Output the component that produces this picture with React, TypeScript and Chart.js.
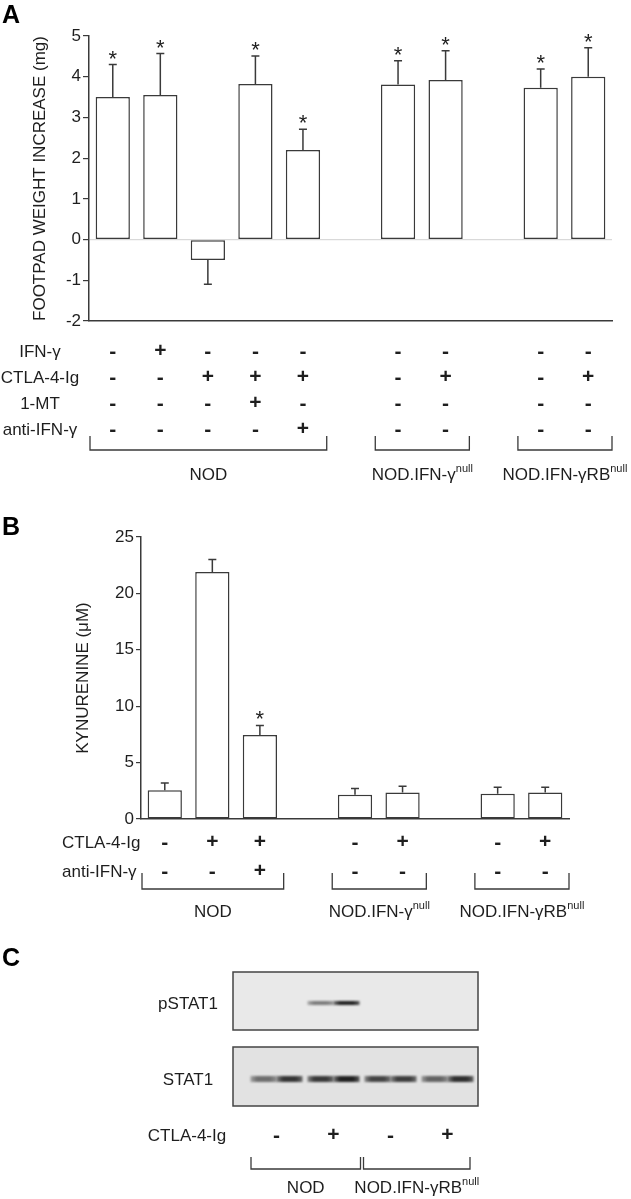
import React, { useEffect, useRef } from 'react';
import { Chart, registerables } from 'chart.js';
Chart.register(...registerables);

const FONT = '"Liberation Sans", Arial, Helvetica, sans-serif';
const INK = '#1e1e1e';
const LINE = '#3a3a3a';

// ---------- Panel A data ----------
const aLanes = ['a1', 'a2', 'a3', 'a4', 'a5', 'gap1', 'a6', 'a7', 'gap2', 'a8', 'a9'];
const aMeans = [3.5, 3.55, -0.5, 3.82, 2.2, null, 3.81, 3.92, null, 3.73, 4.0];
const aErrors = [0.8, 1.02, 0.6, 0.69, 0.51, null, 0.58, 0.72, null, 0.46, 0.71];
const aStars = [true, true, false, true, true, false, true, true, false, true, true];
const aRowLabels = ['IFN-γ', 'CTLA-4-Ig', '1-MT', 'anti-IFN-γ'];
const aIFNg = ['-', '+', '-', '-', '-', '', '-', '-', '', '-', '-'];
const aCTLA = ['-', '-', '+', '+', '+', '', '-', '+', '', '-', '+'];
const a1MT = ['-', '-', '-', '+', '-', '', '-', '-', '', '-', '-'];
const aAnti = ['-', '-', '-', '-', '+', '', '-', '-', '', '-', '-'];
const aGroupNames = ['NOD', 'NOD.IFN-γ', 'NOD.IFN-γRB'];
const aGroupSups = ['', 'null', 'null'];
const aGroupFrom = [0, 6, 9];
const aGroupTo = [4, 7, 10];

// ---------- Panel B data ----------
const bLanes = ['b1', 'b2', 'b3', 'gap1', 'b4', 'b5', 'gap2', 'b6', 'b7'];
const bMeans = [2.55, 21.9, 7.45, null, 2.14, 2.35, null, 2.23, 2.35];
const bErrors = [0.65, 1.1, 0.85, null, 0.56, 0.55, null, 0.59, 0.47];
const bStars = [false, false, true, false, false, false, false, false, false];
const bRowLabels = ['CTLA-4-Ig', 'anti-IFN-γ'];
const bCTLA = ['-', '+', '+', '', '-', '+', '', '-', '+'];
const bAnti = ['-', '-', '+', '', '-', '-', '', '-', '-'];
const bGroupNames = ['NOD', 'NOD.IFN-γ', 'NOD.IFN-γRB'];
const bGroupSups = ['', 'null', 'null'];
const bGroupFrom = [0, 4, 7];
const bGroupTo = [2, 5, 8];

// ---------- Panel C data ----------
const cLanes = ['l1', 'l2', 'l3', 'l4', 'l5', 'l6', 'l7', 'l8'];
const cPSTAT1 = [0, 0, 0.5, 0.92, 0, 0, 0, 0];
const cSTAT1 = [0.55, 0.82, 0.8, 0.92, 0.75, 0.78, 0.6, 0.85];
const cCTLA = ['-', '+', '-', '+'];
const cGroupNames = ['NOD', 'NOD.IFN-γRB'];
const cGroupSups = ['', 'null'];
const cGroupFrom = [0, 4];
const cGroupTo = [3, 7];

function drawSupLabel(ctx: CanvasRenderingContext2D, name: string, sup: string, cx: number, cy: number) {
  ctx.font = `17px ${FONT}`;
  const w1 = ctx.measureText(name).width;
  ctx.font = `11px ${FONT}`;
  const w2 = sup ? ctx.measureText(sup).width : 0;
  const start = cx - (w1 + w2) / 2;
  ctx.textAlign = 'left';
  ctx.textBaseline = 'middle';
  ctx.fillStyle = INK;
  ctx.font = `17px ${FONT}`;
  ctx.fillText(name, start, cy);
  if (sup) {
    ctx.font = `11px ${FONT}`;
    ctx.fillText(sup, start + w1, cy - 6);
  }
}

function drawBracket(ctx: CanvasRenderingContext2D, x1: number, x2: number, top: number, bottom: number) {
  ctx.beginPath();
  ctx.moveTo(x1, top);
  ctx.lineTo(x1, bottom);
  ctx.lineTo(x2, bottom);
  ctx.lineTo(x2, top);
  ctx.stroke();
}

function errorBarPlugin(errors: (number | null)[], stars: boolean[]) {
  return {
    id: 'errbars',
    afterDatasetsDraw(chart: any) {
      const ctx = chart.ctx as CanvasRenderingContext2D;
      const ys = chart.scales.y;
      const meta = chart.getDatasetMeta(0);
      const data = chart.data.datasets[0].data as (number | null)[];
      ctx.save();
      ctx.strokeStyle = LINE;
      ctx.lineWidth = 1.5;
      meta.data.forEach((bar: any, i: number) => {
        const v = data[i];
        const e = errors[i];
        if (v == null || e == null) return;
        const end = v >= 0 ? v + e : v - e;
        const x = bar.x;
        const y0 = ys.getPixelForValue(v);
        const y1 = ys.getPixelForValue(end);
        ctx.beginPath();
        ctx.moveTo(x, y0);
        ctx.lineTo(x, y1);
        ctx.moveTo(x - 4, y1);
        ctx.lineTo(x + 4, y1);
        ctx.stroke();
        if (stars[i]) {
          ctx.fillStyle = INK;
          ctx.font = `22px ${FONT}`;
          ctx.textAlign = 'center';
          ctx.textBaseline = 'alphabetic';
          ctx.fillText('*', x, y1 + 1);
        }
      });
      ctx.restore();
    },
  };
}

type TableCfg = {
  panel: string;
  panelY: number;
  rowLabels: string[];
  rows: string[][];
  rowY: number[];
  labelX: number;
  labelAlign: CanvasTextAlign;
  groupNames: string[];
  groupSups: string[];
  groupFrom: number[];
  groupTo: number[];
  bracketTop: number;
  bracketBottom: number;
  groupY: number;
};

function tablePlugin(cfg: TableCfg) {
  return {
    id: 'table',
    afterDraw(chart: any) {
      const ctx = chart.ctx as CanvasRenderingContext2D;
      const xs = chart.scales.x;
      const w = xs.getPixelForValue(1) - xs.getPixelForValue(0);
      ctx.save();
      ctx.fillStyle = '#000';
      ctx.font = `bold 25px ${FONT}`;
      ctx.textAlign = 'left';
      ctx.textBaseline = 'alphabetic';
      ctx.fillText(cfg.panel, 2, cfg.panelY);
      cfg.rows.forEach((signs, r) => {
        const y = cfg.rowY[r];
        ctx.fillStyle = INK;
        ctx.font = `17px ${FONT}`;
        ctx.textAlign = cfg.labelAlign;
        ctx.textBaseline = 'middle';
        ctx.fillText(cfg.rowLabels[r], cfg.labelX, y);
        ctx.font = `bold 21px ${FONT}`;
        ctx.textAlign = 'center';
        signs.forEach((s, i) => {
          if (!s) return;
          ctx.fillText(s, xs.getPixelForValue(i), s === '+' ? y - 1 : y);
        });
      });
      ctx.strokeStyle = LINE;
      ctx.lineWidth = 1.3;
      cfg.groupNames.forEach((name, g) => {
        const x1 = xs.getPixelForValue(cfg.groupFrom[g]) - w / 2 + 1;
        const x2 = xs.getPixelForValue(cfg.groupTo[g]) + w / 2;
        drawBracket(ctx, x1, x2, cfg.bracketTop, cfg.bracketBottom);
        drawSupLabel(ctx, name, cfg.groupSups[g], (x1 + x2) / 2, cfg.groupY);
      });
      ctx.restore();
    },
  };
}

function makeBarConfig(opts: {
  labels: string[];
  data: (number | null)[];
  min: number;
  max: number;
  step: number;
  title: string;
  titlePad: number;
  yWidth: number;
  xHeight: number;
  padRight: number;
  padTop: number;
  tickLength: number;
  zeroLine: boolean;
  plugins: any[];
}) {
  return {
    type: 'bar',
    data: {
      labels: opts.labels,
      datasets: [
        {
          data: opts.data,
          backgroundColor: '#ffffff',
          borderColor: LINE,
          borderWidth: 1.5,
          borderSkipped: false,
          barPercentage: 0.72,
          categoryPercentage: 1,
        },
      ],
    },
    options: {
      responsive: false,
      animation: false,
      devicePixelRatio: 1,
      layout: { padding: { left: 0, right: opts.padRight, top: opts.padTop, bottom: 0 } },
      plugins: { legend: { display: false }, tooltip: { enabled: false } },
      scales: {
        x: {
          type: 'category',
          grid: { display: false },
          ticks: { display: false },
          border: { display: true, color: LINE, width: 1.5 },
          afterFit: (s: any) => {
            s.height = opts.xHeight;
          },
        },
        y: {
          min: opts.min,
          max: opts.max,
          ticks: { stepSize: opts.step, color: INK, font: { family: FONT, size: 17 }, padding: 2 },
          grid: {
            drawOnChartArea: opts.zeroLine,
            color: (c: any) => (c.tick && c.tick.value === 0 ? '#d9d9d9' : 'rgba(0,0,0,0)'),
            tickColor: LINE,
            tickLength: opts.tickLength,
            lineWidth: 1.2,
          },
          border: { display: true, color: LINE, width: 1.5 },
          title: {
            display: true,
            text: opts.title,
            color: INK,
            font: { family: FONT, size: 17 },
            padding: { top: opts.titlePad, bottom: 0 },
          },
          afterFit: (s: any) => {
            s.width = opts.yWidth;
          },
        },
      },
    },
    plugins: opts.plugins,
  } as any;
}

function PanelA() {
  const ref = useRef<HTMLCanvasElement>(null);
  useEffect(() => {
    const chart = new Chart(
      ref.current!,
      makeBarConfig({
        labels: aLanes,
        data: aMeans,
        min: -2,
        max: 5,
        step: 1,
        title: 'FOOTPAD WEIGHT INCREASE (mg)',
        titlePad: 30,
        yWidth: 89,
        xHeight: 179,
        padRight: 19,
        padTop: 36,
        tickLength: 6,
        zeroLine: true,
        plugins: [
          errorBarPlugin(aErrors, aStars),
          tablePlugin({
            panel: 'A',
            panelY: 23,
            rowLabels: aRowLabels,
            rows: [aIFNg, aCTLA, a1MT, aAnti],
            rowY: [352, 378, 404, 430],
            labelX: 40,
            labelAlign: 'center',
            groupNames: aGroupNames,
            groupSups: aGroupSups,
            groupFrom: aGroupFrom,
            groupTo: aGroupTo,
            bracketTop: 436,
            bracketBottom: 450,
            groupY: 475,
          }),
        ],
      })
    );
    return () => chart.destroy();
  }, []);
  return <canvas ref={ref} width={631} height={500} style={{ position: 'absolute', left: 0, top: 0 }} />;
}

function PanelB() {
  const ref = useRef<HTMLCanvasElement>(null);
  useEffect(() => {
    const chart = new Chart(
      ref.current!,
      makeBarConfig({
        labels: bLanes,
        data: bMeans,
        min: 0,
        max: 25,
        step: 5,
        title: 'KYNURENINE (μM)',
        titlePad: 73,
        yWidth: 141,
        xHeight: 121,
        padRight: 62,
        padTop: 37,
        tickLength: 5,
        zeroLine: false,
        plugins: [
          errorBarPlugin(bErrors, bStars),
          tablePlugin({
            panel: 'B',
            panelY: 35,
            rowLabels: bRowLabels,
            rows: [bCTLA, bAnti],
            rowY: [343, 372],
            labelX: 62,
            labelAlign: 'left',
            groupNames: bGroupNames,
            groupSups: bGroupSups,
            groupFrom: bGroupFrom,
            groupTo: bGroupTo,
            bracketTop: 373,
            bracketBottom: 389,
            groupY: 412,
          }),
        ],
      })
    );
    return () => chart.destroy();
  }, []);
  return <canvas ref={ref} width={631} height={440} style={{ position: 'absolute', left: 0, top: 500 }} />;
}

const blotPlugin = {
  id: 'blot',
  afterDraw(chart: any) {
    const ctx = chart.ctx as CanvasRenderingContext2D;
    const xs = chart.scales.x;
    const area = chart.chartArea;
    const w = xs.getPixelForValue(1) - xs.getPixelForValue(0);
    const boxL = area.left - 15;
    const boxR = area.right + 2;
    const blots = [
      { label: 'pSTAT1', top: 32, bottom: 90, bandY: 63, bandH: 4, bg: '#e9e9e9', vals: cPSTAT1 },
      { label: 'STAT1', top: 107, bottom: 166, bandY: 139, bandH: 6, bg: '#e2e2e2', vals: cSTAT1 },
    ];
    ctx.save();
    ctx.fillStyle = '#000';
    ctx.font = `bold 25px ${FONT}`;
    ctx.textAlign = 'left';
    ctx.textBaseline = 'alphabetic';
    ctx.fillText('C', 2, 26);
    blots.forEach((b) => {
      ctx.fillStyle = b.bg;
      ctx.fillRect(boxL, b.top, boxR - boxL, b.bottom - b.top);
      ctx.save();
      ctx.filter = 'blur(1.3px)';
      b.vals.forEach((v, i) => {
        if (v <= 0) return;
        const cx = xs.getPixelForValue(i);
        const l = cx - w / 2 + (i % 2 === 0 ? 2.5 : 0);
        const r = cx + w / 2 - (i % 2 === 1 ? 2.5 : 0);
        const g = ctx.createLinearGradient(l, 0, r, 0);
        g.addColorStop(0, `rgba(15,15,15,${v * 0.55})`);
        g.addColorStop(0.25, `rgba(15,15,15,${v})`);
        g.addColorStop(0.75, `rgba(15,15,15,${v})`);
        g.addColorStop(1, `rgba(15,15,15,${v * 0.7})`);
        ctx.fillStyle = g;
        ctx.fillRect(l, b.bandY - b.bandH / 2, r - l, b.bandH);
      });
      ctx.restore();
      ctx.strokeStyle = '#444';
      ctx.lineWidth = 1.5;
      ctx.strokeRect(boxL, b.top, boxR - boxL, b.bottom - b.top);
      ctx.fillStyle = INK;
      ctx.font = `17px ${FONT}`;
      ctx.textAlign = 'center';
      ctx.textBaseline = 'middle';
      ctx.fillText(b.label, 188, b.bandY + 1);
    });
    ctx.fillStyle = INK;
    ctx.font = `17px ${FONT}`;
    ctx.textAlign = 'center';
    ctx.textBaseline = 'middle';
    ctx.fillText('CTLA-4-Ig', 187, 196);
    ctx.font = `bold 21px ${FONT}`;
    cCTLA.forEach((s, k) => {
      const cx = (xs.getPixelForValue(2 * k) + xs.getPixelForValue(2 * k + 1)) / 2;
      ctx.fillText(s, cx, s === '+' ? 195 : 196);
    });
    ctx.strokeStyle = LINE;
    ctx.lineWidth = 1.3;
    cGroupNames.forEach((name, g) => {
      const x1 = xs.getPixelForValue(cGroupFrom[g]) - w / 2 + (g === 0 ? 3 : 1.5);
      const x2 = xs.getPixelForValue(cGroupTo[g]) + w / 2 - (g === 0 ? 1.5 : 6);
      drawBracket(ctx, x1, x2, 217, 229);
      drawSupLabel(ctx, name, cGroupSups[g], (x1 + x2) / 2, 248);
    });
    ctx.restore();
  },
};

function PanelC() {
  const ref = useRef<HTMLCanvasElement>(null);
  useEffect(() => {
    const chart = new Chart(ref.current!, {
      type: 'bar',
      data: {
        labels: cLanes,
        datasets: [{ data: cSTAT1, backgroundColor: 'rgba(0,0,0,0)', borderWidth: 0 }],
      },
      options: {
        responsive: false,
        animation: false,
        devicePixelRatio: 1,
        layout: { padding: { left: 248, right: 155, top: 0, bottom: 0 } },
        plugins: { legend: { display: false }, tooltip: { enabled: false } },
        scales: {
          x: { display: false },
          y: { display: false, min: 0, max: 1 },
        },
      },
      plugins: [blotPlugin],
    } as any);
    return () => chart.destroy();
  }, []);
  return <canvas ref={ref} width={631} height={259} style={{ position: 'absolute', left: 0, top: 940 }} />;
}

export default function App() {
  return (
    <div style={{ position: 'relative', width: 631, height: 1199, background: '#fff', overflow: 'hidden' }}>
      <style>{`html,body{margin:0;padding:0;background:#fff;}`}</style>
      <PanelA />
      <PanelB />
      <PanelC />
    </div>
  );
}
